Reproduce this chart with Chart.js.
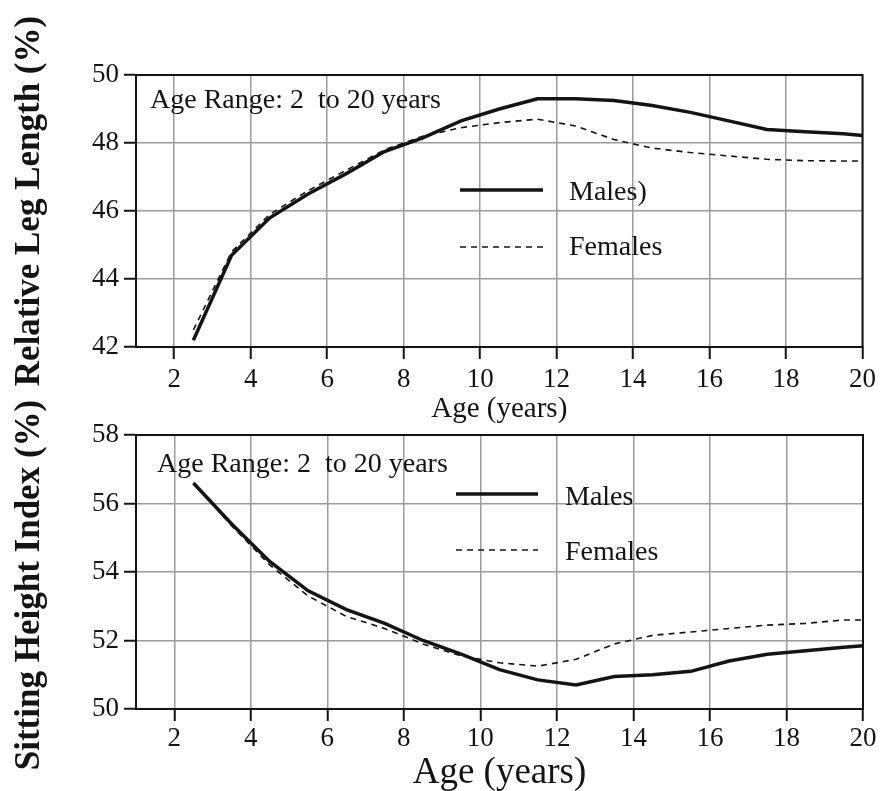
<!DOCTYPE html>
<html lang="en">
<head>
<meta charset="UTF-8">
<title>Relative Leg Length and Sitting Height Index by Age</title>
<script src="https://cdn.jsdelivr.net/npm/chart.js@4.4.0/dist/chart.umd.min.js"></script>
<style>
    body { margin: 0; background: #fff; }
    #wrap { position: relative; width: 881px; height: 791px; }
    canvas { position: absolute; left: 0; }
    #legChart { top: 0; }
    #sitChart { top: 395px; }
</style>
</head>
<body>
<div id="wrap">
    <canvas id="legChart" width="881" height="440"></canvas>
    <canvas id="sitChart" width="881" height="396"></canvas>
</div>
<script>
    // ages (years) where the curves were read
    const ages = [2.5, 3.5, 4.5, 5.5, 6.5, 7.5, 8.5, 9.5, 10.5, 11.5, 12.5, 13.5, 14.5, 15.5, 16.5, 17.5, 18.5, 19.5, 20];

    // relative leg length (%)
    const legMales   = [42.2, 44.7, 45.8, 46.5, 47.1, 47.75, 48.15, 48.65, 49.0, 49.3, 49.3, 49.25, 49.1, 48.9, 48.65, 48.4, 48.33, 48.27, 48.22];
    const legFemales = [42.5, 44.8, 45.9, 46.6, 47.2, 47.8, 48.2, 48.45, 48.6, 48.7, 48.5, 48.1, 47.85, 47.72, 47.62, 47.52, 47.48, 47.47, 47.47];

    // sitting height index (%)
    const sitMales   = [56.6, 55.4, 54.3, 53.45, 52.9, 52.5, 52.0, 51.6, 51.15, 50.85, 50.7, 50.95, 51.0, 51.1, 51.4, 51.6, 51.7, 51.8, 51.85];
    const sitFemales = [56.6, 55.35, 54.2, 53.3, 52.7, 52.35, 51.9, 51.55, 51.35, 51.25, 51.45, 51.9, 52.15, 52.25, 52.35, 52.45, 52.5, 52.6, 52.6];

    const ageTicks = [2, 4, 6, 8, 10, 12, 14, 16, 18, 20];
    const legTicks = [42, 44, 46, 48, 50];
    const sitTicks = [50, 52, 54, 56, 58];

    const SERIF = "'Liberation Serif', 'Times New Roman', serif";
    const INK = '#141414';

    Chart.defaults.font.family = SERIF;
    Chart.defaults.color = INK;

    // frame, labels and the in-plot legend
    const decor = {
        id: 'decor',
        afterDraw(chart, args, o) {
            const { ctx, chartArea: a } = chart;
            ctx.save();
            ctx.strokeStyle = INK;
            ctx.lineWidth = 2;
            ctx.setLineDash([]);
            ctx.strokeRect(a.left, a.top, a.right - a.left, a.bottom - a.top);

            ctx.fillStyle = INK;
            ctx.textAlign = 'left';
            ctx.textBaseline = 'alphabetic';
            ctx.font = '28px ' + SERIF;
            ctx.fillText(o.note.text, o.note.x, o.note.y);

            chart.data.datasets.forEach((ds, i) => {
                const L = o.legend[i];
                ctx.beginPath();
                ctx.strokeStyle = ds.borderColor;
                ctx.lineWidth = ds.borderWidth;
                ctx.setLineDash(ds.borderDash || []);
                ctx.moveTo(L.x1, L.y);
                ctx.lineTo(L.x2, L.y);
                ctx.stroke();
                ctx.setLineDash([]);
                ctx.fillText(ds.label, L.tx, L.ty);
            });

            // x title
            ctx.textAlign = 'center';
            ctx.font = o.xTitle.size + 'px ' + SERIF;
            ctx.fillText(o.xTitle.text, (a.left + a.right) / 2, o.xTitle.y);

            // y title
            ctx.translate(o.yTitle.x, o.yTitle.y);
            ctx.rotate(-Math.PI / 2);
            ctx.textBaseline = 'middle';
            ctx.font = 'bold ' + o.yTitle.size + 'px ' + SERIF;
            ctx.fillText(o.yTitle.text, 0, 0);
            ctx.restore();
        }
    };

    function points(vals) {
        return ages.map((a, i) => ({ x: a, y: vals[i] }));
    }

    function makeChart(id, cfg) {
        const h = document.getElementById(id).height;
        return new Chart(document.getElementById(id), {
            type: 'line',
            data: {
                datasets: [{
                    label: cfg.names[0],
                    data: points(cfg.males),
                    borderColor: INK,
                    borderWidth: 3.5,
                    pointRadius: 0,
                    tension: 0
                }, {
                    label: cfg.names[1],
                    data: points(cfg.females),
                    borderColor: INK,
                    borderWidth: 1.6,
                    borderDash: [6, 5],
                    pointRadius: 0,
                    tension: 0
                }]
            },
            options: {
                responsive: false,
                animation: false,
                layout: { padding: { top: cfg.plotTop, right: 18, left: 0, bottom: 0 } },
                plugins: {
                    legend: { display: false },
                    tooltip: { enabled: false },
                    decor: cfg.decor
                },
                scales: {
                    x: {
                        type: 'linear',
                        min: 1,
                        max: 20,
                        afterBuildTicks: s => { s.ticks = ageTicks.map(v => ({ value: v })); },
                        afterFit: s => { s.height = h - cfg.plotBottom; },
                        grid: { color: '#9c9c9c', lineWidth: 1.5, tickLength: 12, tickColor: INK, tickWidth: 2 },
                        border: { color: INK, width: 2 },
                        ticks: { font: { family: SERIF, size: 27 }, color: INK, padding: cfg.xPad, maxRotation: 0, autoSkip: false }
                    },
                    y: {
                        min: cfg.yTicks[0],
                        max: cfg.yTicks[cfg.yTicks.length - 1],
                        afterBuildTicks: s => { s.ticks = cfg.yTicks.map(v => ({ value: v })); },
                        afterFit: s => { s.width = 136; },
                        grid: { color: '#9c9c9c', lineWidth: 1.5, tickLength: 12, tickColor: INK, tickWidth: 2 },
                        border: { color: INK, width: 2 },
                        ticks: { font: { family: SERIF, size: 27 }, color: INK, padding: 5, autoSkip: false }
                    }
                }
            },
            plugins: [decor]
        });
    }

    makeChart('legChart', {
        names: ['Males)', 'Females'],
        males: legMales,
        females: legFemales,
        yTicks: legTicks,
        plotTop: 75,
        plotBottom: 347,
        xPad: 5,
        decor: {
            note: { text: 'Age Range: 2  to 20 years', x: 150, y: 108 },
            legend: [
                { x1: 460, x2: 543, y: 190, tx: 569, ty: 200 },
                { x1: 460, x2: 543, y: 247, tx: 569, ty: 255 }
            ],
            xTitle: { text: 'Age (years)', size: 29, y: 417 },
            yTitle: { text: 'Relative Leg Length (%)', size: 35, x: 30, y: 201 }
        }
    });

    // second canvas starts at page y = 395
    makeChart('sitChart', {
        names: ['Males', 'Females'],
        males: sitMales,
        females: sitFemales,
        yTicks: sitTicks,
        plotTop: 40,
        plotBottom: 314,
        xPad: 2,
        decor: {
            note: { text: 'Age Range: 2  to 20 years', x: 157, y: 472 - 395 },
            legend: [
                { x1: 456, x2: 538, y: 494 - 395, tx: 565, ty: 505 - 395 },
                { x1: 456, x2: 538, y: 550 - 395, tx: 565, ty: 560 - 395 }
            ],
            xTitle: { text: 'Age (years)', size: 37, y: 783 - 395 },
            yTitle: { text: 'Sitting Height Index (%)', size: 35, x: 30, y: 585 - 395 }
        }
    });
</script>
</body>
</html>
